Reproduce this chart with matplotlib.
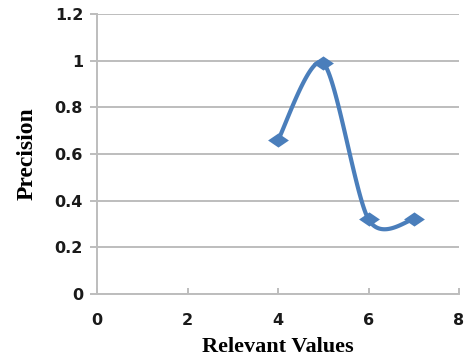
import numpy as np
import matplotlib.pyplot as plt

# Precision measured at each number of relevant values
relevant_values = [4, 5, 6, 7]
precision = [0.66, 0.99, 0.32, 0.32]

x_ticks = [0, 2, 4, 6, 8]
y_ticks = [0, 0.2, 0.4, 0.6, 0.8, 1, 1.2]
y_tick_labels = ['0', '0.2', '0.4', '0.6', '0.8', '1', '1.2']


# Smooth curve through the points (Bezier segments, spreadsheet-style smoothing)
def smooth_curve(xs, ys, steps=40, tension=6.0):
    xs = np.asarray(xs, dtype=float)
    ys = np.asarray(ys, dtype=float)
    n = len(xs)
    out_x, out_y = [], []
    for i in range(n - 1):
        p0 = np.array([xs[max(i - 1, 0)], ys[max(i - 1, 0)]])
        p1 = np.array([xs[i], ys[i]])
        p2 = np.array([xs[i + 1], ys[i + 1]])
        p3 = np.array([xs[min(i + 2, n - 1)], ys[min(i + 2, n - 1)]])
        c1 = p1 + (p2 - p0) / tension
        c2 = p2 - (p3 - p1) / tension
        t = np.linspace(0, 1, steps)[:, None]
        pts = ((1 - t) ** 3) * p1 + 3 * ((1 - t) ** 2) * t * c1 + 3 * (1 - t) * t ** 2 * c2 + t ** 3 * p2
        out_x.extend(pts[:, 0])
        out_y.extend(pts[:, 1])
    return out_x, out_y


fig = plt.figure(figsize=(4.7, 3.61), dpi=100)
ax = fig.add_axes([0.2064, 0.1856, 0.7702, 0.7754])

line_color = '#4a7ebb'
grid_color = '#bdbdbd'

# flattened diamond marker
diamond = [(-1, 0), (0, 0.68), (1, 0), (0, -0.68), (-1, 0)]

sx, sy = smooth_curve(relevant_values, precision, tension=7.0)
ax.plot(sx, sy, color=line_color, linewidth=3, zorder=3, solid_capstyle='round')
ax.plot(relevant_values, precision, linestyle='none', marker=diamond, markersize=15,
        color=line_color, markeredgewidth=0, zorder=4)

ax.set_xlim(0, 8)
ax.set_ylim(0, 1.2)
ax.set_xticks(x_ticks)
ax.set_yticks(y_ticks)
ax.set_yticklabels(y_tick_labels)

ax.yaxis.grid(True, color=grid_color, linewidth=1.4)
ax.set_axisbelow(True)

for side in ['top', 'right']:
    ax.spines[side].set_visible(False)
for side in ['left', 'bottom']:
    ax.spines[side].set_color(grid_color)
    ax.spines[side].set_linewidth(1.4)

ax.tick_params(axis='y', direction='out', length=5, width=1.4, color=grid_color, pad=5)
ax.tick_params(axis='x', direction='in', length=4, width=1.4, color=grid_color, pad=14)
for lbl in ax.get_xticklabels() + ax.get_yticklabels():
    lbl.set_fontweight('bold')
    lbl.set_fontsize(11.5)
    lbl.set_color('#1a1a1a')

ax.set_xlabel('Relevant Values', family='Liberation Serif', fontweight='bold', fontsize=16, labelpad=6)
ax.set_ylabel('Precision', family='Liberation Serif', fontweight='bold', fontsize=17, labelpad=12)

plt.savefig('out.png', dpi=100)
plt.close()
